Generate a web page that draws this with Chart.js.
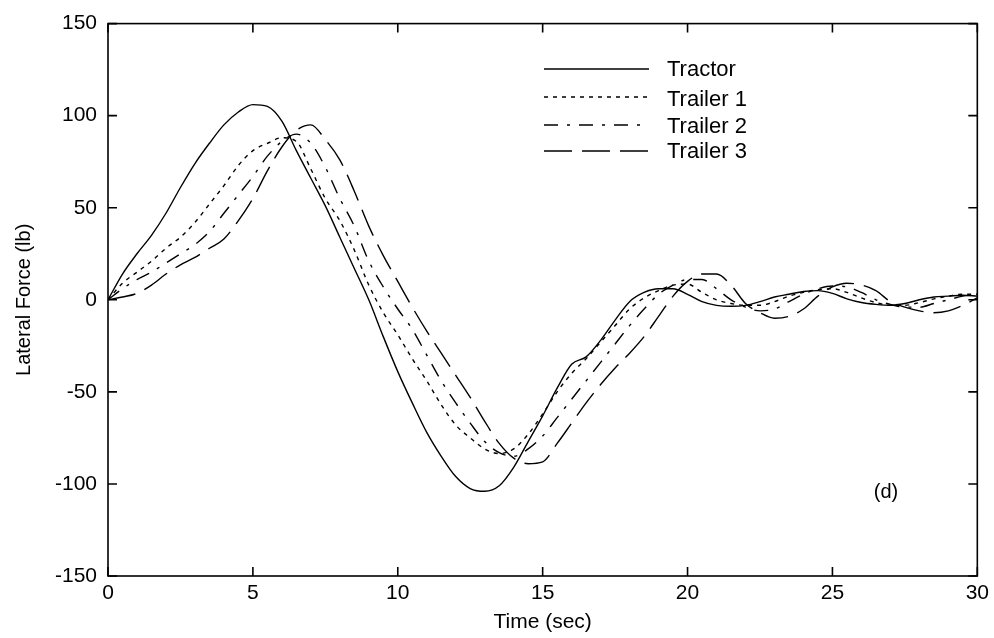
<!DOCTYPE html>
<html>
<head>
<meta charset="utf-8">
<script src="https://cdn.jsdelivr.net/npm/chart.js@4"></script>
<style>
  html, body { margin: 0; padding: 0; background: #fff; }
  #wrap { width: 994px; height: 638px; }
</style>
</head>
<body>
<div id="wrap"><canvas id="c" width="994" height="638"></canvas></div>
<script>
// time axis (sec), sampled every 0.5 s
const time = [];
for (let i = 0; i <= 60; i++) time.push(i / 2);

// lateral force (lb)
const tractor = [0, 14, 25, 35, 47, 61, 74, 85, 95, 102,
  106, 105, 97, 81, 66, 51, 34, 17, 0, -20,
  -39, -56, -72, -85, -96, -102.5, -104, -101, -91, -77,
  -63, -48, -35, -31, -22, -11, -1, 4, 6, 6,
  3, -1, -3, -3.5, -3, -1, 1.5, 3, 4.5, 5,
  3.5, 0.5, -1.5, -2.5, -3, -2, 0, 1.5, 2, 2.5, 2];
const trailer1 = [0, 9, 15, 21, 28, 34, 42, 52, 62, 73,
  81, 85, 88, 86, 71, 55, 43, 27, 8, -7,
  -19, -32, -44, -57, -68, -75, -81, -83.5, -81, -73,
  -62, -50, -40, -32, -23, -14, -5, 1, 5, 8,
  8.5, 4, 0, -2, -3, -3, -1, 2, 4, 5.5,
  6, 4, 1, -1.5, -3, -3, -1.5, 0.5, 2, 3, 3];
const trailer2 = [0, 6, 11, 15, 20, 25, 30, 37, 47, 57,
  67, 78, 86, 90, 85, 72, 55, 40, 21, 7,
  -5, -16, -30, -44, -56, -67, -77, -83, -85, -81,
  -74, -64, -54, -44, -34, -24, -14, -5, 3, 8,
  11, 11, 6, 0, -4, -6, -5, -1, 3, 6,
  7.5, 7, 4, 0, -2.5, -4, -4, -2, 0, 2, 3];
const trailer3 = [0, 1.5, 3.5, 8, 14, 19, 23, 28, 33, 43,
  55, 70, 83, 92, 95, 87, 76, 59, 40, 24,
  10, -4, -17, -29, -41, -53, -66, -78, -86, -89,
  -88, -78, -67, -56, -46, -37, -29, -20, -9, 2,
  10, 14, 14, 8, -2, -7, -10, -9, -5, 2,
  7, 9, 8, 5, -1, -4, -6, -7, -6, -3, 1];

const seriesNames = ['Tractor', 'Trailer 1', 'Trailer 2', 'Trailer 3'];
const dashes = [[], [4, 5], [14, 9, 3, 9], [28, 10]];

const FONT = "'Liberation Sans', Arial, sans-serif";

function toPoints(arr) {
  return time.map((t, i) => ({ x: t, y: arr[i] }));
}

// box, inward ticks, in-plot legend and the "(d)" tag
const framePlugin = {
  id: 'frame',
  afterDraw(chart) {
    const { ctx, chartArea: a, scales } = chart;
    const x = scales.x, y = scales.y;
    ctx.save();
    ctx.strokeStyle = '#000';
    ctx.lineWidth = 1.6;
    ctx.strokeRect(a.left, a.top, a.right - a.left, a.bottom - a.top);
    ctx.beginPath();
    x.ticks.forEach(t => {
      const px = x.getPixelForValue(t.value);
      ctx.moveTo(px, a.bottom); ctx.lineTo(px, a.bottom - 9);
      ctx.moveTo(px, a.top); ctx.lineTo(px, a.top + 9);
    });
    y.ticks.forEach(t => {
      const py = y.getPixelForValue(t.value);
      ctx.moveTo(a.left, py); ctx.lineTo(a.left + 9, py);
      ctx.moveTo(a.right, py); ctx.lineTo(a.right - 9, py);
    });
    ctx.stroke();

    // legend
    const rows = [69, 97, 125, 151];
    const textY = [70, 100, 127, 152];
    ctx.font = '22px ' + FONT;
    ctx.fillStyle = '#000';
    ctx.textBaseline = 'middle';
    ctx.textAlign = 'left';
    chart.data.datasets.forEach((ds, i) => {
      ctx.lineWidth = 1.5;
      ctx.setLineDash(ds.borderDash || []);
      ctx.beginPath();
      ctx.moveTo(544, rows[i]);
      ctx.lineTo(649, rows[i]);
      ctx.stroke();
      ctx.setLineDash([]);
      ctx.fillText(ds.label, 667, textY[i]);
    });

    ctx.font = '20px ' + FONT;
    ctx.textAlign = 'center';
    ctx.fillText('(d)', 886, 492);
    ctx.restore();
  }
};

new Chart(document.getElementById('c').getContext('2d'), {
  type: 'line',
  data: {
    datasets: [tractor, trailer1, trailer2, trailer3].map((arr, i) => ({
      label: seriesNames[i],
      data: toPoints(arr),
      borderColor: '#000',
      borderWidth: 1.4,
      borderDash: dashes[i],
      pointRadius: 0,
      fill: false,
      cubicInterpolationMode: 'monotone'
    }))
  },
  options: {
    responsive: false,
    animation: false,
    layout: { padding: { left: 0, right: 16, top: 17, bottom: 0 } },
    plugins: { legend: { display: false }, tooltip: { enabled: false } },
    scales: {
      x: {
        type: 'linear', min: 0, max: 30,
        grid: { display: false, drawTicks: false },
        border: { display: false },
        ticks: { stepSize: 5, padding: 5, color: '#000', font: { family: FONT, size: 21 }, maxRotation: 0 },
        title: { display: true, text: 'Time (sec)', color: '#000', font: { family: FONT, size: 21 }, padding: { top: 0, bottom: 3 } },
        afterFit(scale) { scale.height = 62; }
      },
      y: {
        min: -150, max: 150,
        grid: { display: false, drawTicks: false },
        border: { display: false },
        ticks: { stepSize: 50, padding: 11, color: '#000', font: { family: FONT, size: 21 } },
        title: { display: true, text: 'Lateral Force (lb)', color: '#000', font: { family: FONT, size: 20 }, padding: { top: 12, bottom: 0 } },
        afterFit(scale) { scale.width = 108; }
      }
    }
  },
  plugins: [framePlugin]
});
</script>
</body>
</html>
